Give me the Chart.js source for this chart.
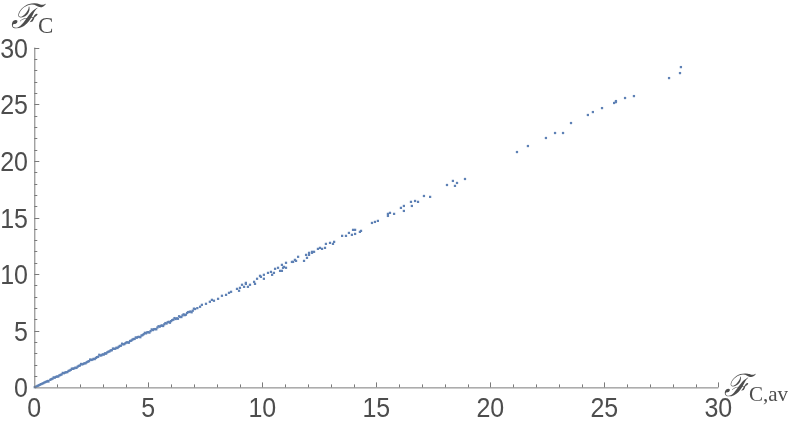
<!DOCTYPE html>
<html>
<head>
<meta charset="utf-8">
<script src="https://cdn.jsdelivr.net/npm/chart.js@4.4.1/dist/chart.umd.min.js"></script>
<style>
  html, body { margin: 0; padding: 0; background: #fff; }
</style>
</head>
<body>
<canvas id="canvas-1" width="800" height="425"></canvas>
<script>
// F_C,av values (x) and F_C values (y)
let fcAv = [
  0.02, 0.05, 0.1, 0.15, 0.2, 0.25, 0.3, 0.35, 0.4, 0.45, 0.5, 0.55, 0.6, 0.7, 0.75, 0.8, 0.9, 0.95, 1.0, 1.1,
  1.15, 1.2, 1.3, 1.35, 1.4, 1.5, 1.55, 1.6, 1.7, 1.75, 1.8, 1.9, 1.95, 2.0, 2.1, 2.15, 2.2, 2.3, 2.35, 2.4,
  2.5, 2.55, 2.6, 2.7, 2.75, 2.8, 2.9, 2.95, 3.0, 3.05, 3.1, 3.2, 3.25, 3.3, 3.35, 3.4, 3.5, 3.55, 3.6, 3.7,
  3.75, 3.8, 3.9, 3.95, 4.0, 4.05, 4.1, 4.2, 4.25, 4.3, 4.35, 4.4, 4.5, 4.55, 4.6, 4.7, 4.75, 4.8, 4.9, 4.95,
  5.0, 5.1, 5.2, 5.25, 5.3, 5.4, 5.5, 5.55, 5.6, 5.7, 5.8, 5.85, 5.9, 6.0, 6.1, 6.2, 6.25, 6.4, 6.5, 6.6,
  6.7, 6.8, 6.85, 6.95, 7.05, 7.15,
  0.62, 0.85, 1.05, 1.25, 1.45, 1.65, 1.85, 2.05, 2.25, 2.45, 2.65, 2.85, 3.15, 3.45, 3.65, 3.85, 4.15, 4.45,
  4.65, 4.85, 5.05, 5.15, 5.35, 5.45, 5.65, 5.75, 5.95, 6.05, 6.15, 6.3, 6.35, 6.45, 6.55, 6.65, 6.75, 6.9, 7.0,
  7.27, 7.35, 7.53, 7.70, 7.79, 7.88, 8.06, 8.23, 8.41, 8.54, 8.63, 8.89, 8.98, 9.02, 9.11, 9.20, 9.28, 9.28,
  9.37, 9.46, 9.64, 9.68, 9.77, 9.90, 9.94, 10.07, 10.07, 10.25, 10.38, 10.43, 10.51, 10.56, 10.69, 10.78,
  10.86, 10.86, 10.91, 10.95, 11.04, 11.04, 11.30, 11.35, 11.43, 11.48, 11.57, 11.83, 11.96, 11.92, 12.05,
  12.05, 12.18, 12.18, 12.27, 12.44, 12.53, 12.62, 12.75, 12.79, 12.97, 13.10, 13.15, 13.50, 13.67, 13.80,
  13.93, 13.98, 14.07, 14.07, 14.28, 14.33, 14.81, 14.94, 15.07, 15.51, 15.51, 15.60, 15.78,
  16.08, 16.21, 16.21, 16.56, 16.52, 16.70, 16.83, 17.09, 17.36, 18.10, 18.45, 18.36, 18.54, 18.89,
  21.17, 21.65, 22.44, 22.84, 23.19, 23.54, 24.28, 24.50, 24.90, 25.43, 25.51, 25.51, 25.91, 26.30,
  27.84, 28.32, 28.36
];
let fc = [
  0.02, 0.04, 0.09, 0.14, 0.19, 0.24, 0.29, 0.33, 0.38, 0.44, 0.48, 0.53, 0.57, 0.67, 0.73, 0.77, 0.86, 0.93, 0.96, 1.06,
  1.10, 1.15, 1.25, 1.31, 1.34, 1.45, 1.49, 1.55, 1.64, 1.68, 1.74, 1.83, 1.90, 1.93, 2.03, 2.07, 2.13, 2.22, 2.28, 2.31,
  2.42, 2.45, 2.52, 2.60, 2.67, 2.70, 2.81, 2.84, 2.92, 2.90, 3.01, 3.09, 3.15, 3.18, 3.27, 3.28, 3.40, 3.41, 3.50, 3.58,
  3.66, 3.68, 3.80, 3.82, 3.91, 3.98, 3.97, 4.10, 4.12, 4.21, 4.27, 4.28, 4.39, 4.45, 4.46, 4.58, 4.62, 4.70, 4.77, 4.86,
  4.88, 4.97, 5.06, 5.14, 5.15, 5.29, 5.36, 5.44, 5.47, 5.57, 5.64, 5.75, 5.79, 5.85, 5.98, 6.04, 6.10, 6.22, 6.36, 6.38,
  6.57, 6.66, 6.70, 6.77, 6.92, 7.00,
  0.52, 0.88, 0.96, 1.28, 1.35, 1.66, 1.72, 2.07, 2.13, 2.46, 2.50, 2.88, 2.98, 3.43, 3.48, 3.86, 3.95, 4.41,
  4.43, 4.82, 4.84, 5.12, 5.13, 5.40, 5.42, 5.68, 5.71, 5.94, 6.12, 6.06, 6.28, 6.21, 6.45, 6.42, 6.65, 6.63, 6.95,
  7.12, 7.29, 7.38, 7.56, 7.73, 7.65, 7.82, 8.09, 8.17, 8.35, 8.44, 8.70, 8.53, 8.79, 9.06, 8.88, 9.14, 9.23,
  8.88, 9.06, 9.32, 9.14, 9.59, 9.85, 9.76, 9.94, 9.59, 10.11, 10.20, 9.94, 10.11, 10.47, 10.56, 10.29,
  10.82, 10.29, 10.56, 10.64, 11.00, 10.56, 11.08, 11.08, 11.26, 11.17, 11.53, 11.17, 11.44, 11.70, 11.88,
  11.70, 11.97, 11.88, 11.97, 12.23, 12.32, 12.23, 12.32, 12.67, 12.76, 12.67, 12.85, 13.38, 13.38, 13.64,
  13.47, 13.91, 13.91, 13.55, 13.73, 13.82, 14.52, 14.61, 14.70, 15.32, 15.14, 15.41, 15.32,
  15.85, 16.02, 15.58, 16.02, 16.38, 16.46, 16.38, 16.90, 16.82, 17.87, 17.79, 18.23, 18.05, 18.40,
  20.78, 21.31, 22.02, 22.46, 22.46, 23.34, 24.05, 24.31, 24.66, 25.11, 25.28, 25.19, 25.55, 25.72,
  27.31, 27.75, 28.28
];
let xTicks = [0, 5, 10, 15, 20, 25, 30];
let yTicks = [0, 5, 10, 15, 20, 25, 30];

const punkti = fcAv.map((v, i) => ({ x: v, y: fc[i] }));

const axisColor = '#7a7a7a';
const textColor = '#4d4d4d';

// Mathematica-like axes, inward ticks and labels
const osePlugin = {
  id: 'ose',
  afterDraw(chart) {
    const ctx = chart.ctx;
    const sx = chart.scales.x;
    const sy = chart.scales.y;
    const x0 = sx.getPixelForValue(0);
    const y0 = sy.getPixelForValue(0);
    ctx.save();
    ctx.strokeStyle = axisColor;
    ctx.lineWidth = 1;
    ctx.beginPath();
    ctx.moveTo(x0 + 0.5, sy.getPixelForValue(30));
    ctx.lineTo(x0 + 0.5, y0 + 0.5);
    ctx.lineTo(sx.getPixelForValue(30), y0 + 0.5);
    // ticks
    for (let v = 1; v <= 30; v++) {
      let len = v % 5 === 0 ? 5 : 3;
      let px = Math.round(sx.getPixelForValue(v)) + 0.5;
      ctx.moveTo(px, y0);
      ctx.lineTo(px, y0 - len);
      let py = Math.round(sy.getPixelForValue(v)) + 0.5;
      ctx.moveTo(x0, py);
      ctx.lineTo(x0 + len, py);
    }
    ctx.stroke();

    // tick labels
    ctx.fillStyle = textColor;
    ctx.font = '25px "Liberation Sans", Arial, sans-serif';
    ctx.textBaseline = 'alphabetic';
    ctx.textAlign = 'center';
    xTicks.forEach(t => {
      ctx.save();
      ctx.translate(sx.getPixelForValue(t), 417);
      ctx.scale(1, 1.1);
      ctx.fillText(String(t), 0, 0);
      ctx.restore();
    });
    ctx.textAlign = 'right';
    yTicks.forEach(t => {
      ctx.save();
      ctx.translate(28, sy.getPixelForValue(t) + 10);
      ctx.scale(1, 1.1);
      ctx.fillText(String(t), 0, 0);
      ctx.restore();
    });

    // axis titles
    ctx.textAlign = 'left';
    ctx.font = 'italic 34px "DejaVu Serif", "Liberation Serif", serif';
    ctx.fillText('\u2131', 11, 28);
    ctx.font = '23px "Liberation Serif", "Times New Roman", serif';
    ctx.fillText('C', 38, 33);

    ctx.font = 'italic 31px "DejaVu Serif", "Liberation Serif", serif';
    ctx.fillText('\u2131', 724, 396);
    ctx.font = '21px "Liberation Serif", "Times New Roman", serif';
    ctx.fillText('C,av', 749, 401);
    ctx.restore();
  }
};

const scatterChart = new Chart(document.getElementById('canvas-1'), {
  type: 'scatter',
  data: {
    datasets: [{
      data: punkti,
      backgroundColor: '#5E81B5',
      borderWidth: 0,
      pointStyle: 'rect',
      pointRadius: 1.6,
      pointHoverRadius: 1.6,
      clip: false
    }]
  },
  options: {
    responsive: false,
    animation: false,
    layout: {
      padding: { top: 47.6, right: 81.7, left: 0, bottom: 0 }
    },
    plugins: {
      legend: { display: false },
      tooltip: { enabled: false }
    },
    scales: {
      x: {
        type: 'linear',
        min: 0,
        max: 30,
        grid: { display: false },
        border: { display: false },
        ticks: { display: false },
        afterFit(scale) { scale.height = 37.6; }
      },
      y: {
        type: 'linear',
        min: 0,
        max: 30,
        grid: { display: false },
        border: { display: false },
        ticks: { display: false },
        afterFit(scale) { scale.width = 34.3; }
      }
    }
  },
  plugins: [osePlugin]
});
</script>
</body>
</html>
